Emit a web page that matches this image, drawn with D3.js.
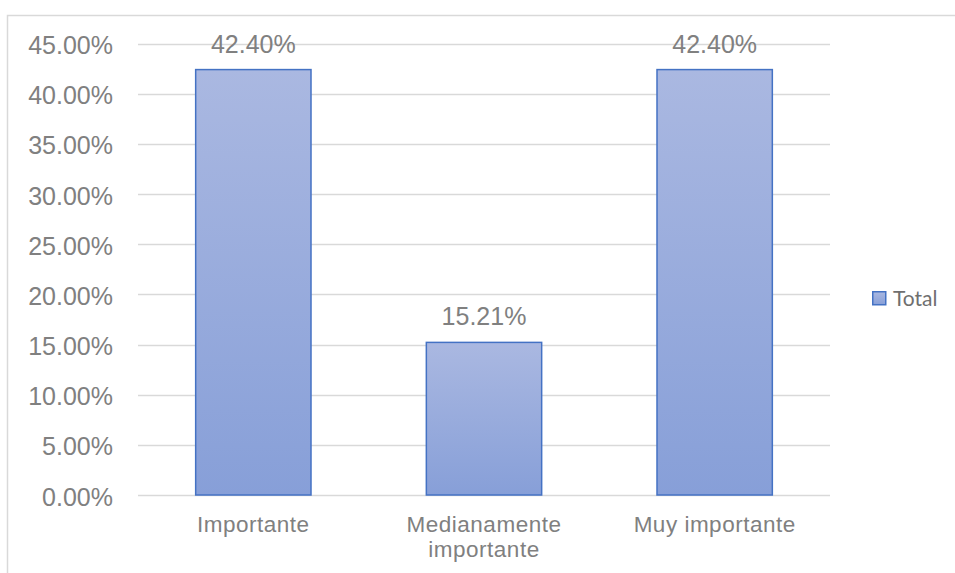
<!DOCTYPE html>
<html>
<head>
<meta charset="utf-8">
<script src="https://cdn.jsdelivr.net/npm/d3@7"></script>
<style>
  html, body { margin: 0; padding: 0; background: #ffffff; }
  svg { display: block; }
</style>
</head>
<body>
<script>
// Chart data
const categories = [["Importante"], ["Medianamente", "importante"], ["Muy importante"]];
const categoryKeys = ["Importante", "Medianamente importante", "Muy importante"];
const totals = [0.4240, 0.1521, 0.4240];
const yTicks = [0, 0.05, 0.10, 0.15, 0.20, 0.25, 0.30, 0.35, 0.40, 0.45];
const seriesName = "Total";

const W = 955, H = 573;
const svg = d3.select("body").append("svg").attr("width", W).attr("height", H);

// Outer chart frame
svg.append("rect")
  .attr("x", 7.5).attr("y", 15.5)
  .attr("width", 960).attr("height", 600)
  .attr("fill", "none").attr("stroke", "#d9d9d9").attr("stroke-width", 1.5);

const plot = { left: 138, right: 830, top: 43.5, bottom: 495 };

const x = d3.scaleBand()
  .domain(categoryKeys)
  .range([plot.left, plot.right])
  .paddingInner(0.5)
  .paddingOuter(0.25);

const y = d3.scaleLinear()
  .domain([0, 0.45])
  .range([plot.bottom, plot.top]);

const grey = "#808080";
const fontFamily = "'Liberation Sans', Arial, sans-serif";

// Gradient fill for the bars
const defs = svg.append("defs");
const grad = defs.append("linearGradient")
  .attr("id", "barGrad").attr("x1", 0).attr("y1", 0).attr("x2", 0).attr("y2", 1);
grad.append("stop").attr("offset", "0%").attr("stop-color", "#aab8e1");
grad.append("stop").attr("offset", "100%").attr("stop-color", "#879fd8");

// Horizontal gridlines
svg.append("g")
  .selectAll("line")
  .data(yTicks)
  .join("line")
  .attr("x1", plot.left).attr("x2", plot.right)
  .attr("y1", d => Math.round(y(d)) + 0.5).attr("y2", d => Math.round(y(d)) + 0.5)
  .attr("stroke", "#d9d9d9").attr("stroke-width", 1.5);

// Y axis tick labels
svg.append("g")
  .selectAll("text")
  .data(yTicks)
  .join("text")
  .attr("x", 113)
  .attr("y", d => y(d) + 10.5)
  .attr("text-anchor", "end")
  .attr("font-family", fontFamily)
  .attr("font-size", 25)
  .attr("fill", grey)
  .text(d => d3.format(".2%")(d));

// Bars
svg.append("g")
  .selectAll("rect")
  .data(totals)
  .join("rect")
  .attr("x", (d, i) => x(categoryKeys[i]))
  .attr("y", d => y(d))
  .attr("width", x.bandwidth())
  .attr("height", d => plot.bottom - y(d))
  .attr("fill", "url(#barGrad)")
  .attr("stroke", "#4472c4")
  .attr("stroke-width", 1.5);

// Data labels
svg.append("g")
  .selectAll("text")
  .data(totals)
  .join("text")
  .attr("x", (d, i) => x(categoryKeys[i]) + x.bandwidth() / 2)
  .attr("y", d => y(d) - 17)
  .attr("text-anchor", "middle")
  .attr("font-family", fontFamily)
  .attr("font-size", 25)
  .attr("fill", grey)
  .text(d => d3.format(".2%")(d));

// Category labels
const cat = svg.append("g")
  .selectAll("text")
  .data(categories)
  .join("text")
  .attr("x", (d, i) => x(categoryKeys[i]) + x.bandwidth() / 2)
  .attr("y", 532)
  .attr("text-anchor", "middle")
  .attr("font-family", fontFamily)
  .attr("font-size", 22.5)
  .attr("letter-spacing", 0.5)
  .attr("fill", grey);
cat.selectAll("tspan")
  .data((d, i) => d.map(t => ({ t, i })))
  .join("tspan")
  .attr("x", d => x(categoryKeys[d.i]) + x.bandwidth() / 2)
  .attr("dy", (d, j) => j === 0 ? 0 : 25)
  .text(d => d.t);

// Legend
const legend = svg.append("g").attr("transform", "translate(872,291)");
legend.append("rect")
  .attr("x", 0.75).attr("y", 0.75).attr("width", 13).attr("height", 13)
  .attr("fill", "url(#barGrad)").attr("stroke", "#4472c4").attr("stroke-width", 1.5);
legend.append("text")
  .attr("x", 21).attr("y", 14.5)
  .attr("font-family", "Lato, 'Open Sans', sans-serif")
  .attr("font-size", 21)
  .attr("fill", "#6f6f6f")
  .text(seriesName);
</script>
</body>
</html>
